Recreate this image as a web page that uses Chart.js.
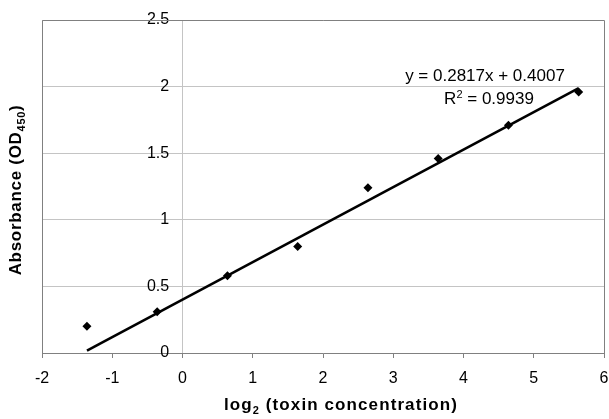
<!DOCTYPE html>
<html>
<head>
<meta charset="utf-8">
<script src="https://cdn.jsdelivr.net/npm/chart.js@4.4.1/dist/chart.umd.min.js"></script>
<style>
  html, body { margin: 0; padding: 0; background: #ffffff; }
  #wrap { width: 609px; height: 419px; position: relative; }
</style>
</head>
<body>
<div id="wrap"><canvas id="c" width="609" height="419"></canvas></div>
<script>
// ---- data ----
const log2Conc = [-1.36, -0.36, 0.64, 1.64, 2.64, 3.64, 4.64, 5.64];
const absorbance = [0.20, 0.31, 0.58, 0.80, 1.24, 1.46, 1.71, 1.96];
const trendX = [-1.36, 5.64];
const trendY = [0.018, 1.989];
const xTickValues = [-2, -1, 0, 1, 2, 3, 4, 5, 6];
const xTickLabels = ['-2', '-1', '0', '1', '2', '3', '4', '5', '6'];
const yTickValues = [0, 0.5, 1, 1.5, 2, 2.5];
const yTickLabels = ['0', '0.5', '1', '1.5', '2', '2.5'];
const xTitleParts = [['log', 'n'], ['2', 'sub'], [' (toxin concentration)', 'n']];
const yTitleParts = [['Absorbance (OD', 'n'], ['450', 'sub'], [')', 'n']];
const equationParts = [['y = 0.2817x + 0.4007', 'n']];
const r2Parts = [['R', 'n'], ['2', 'sup'], [' = 0.9939', 'n']];

const FONT = '"Liberation Sans", Arial, sans-serif';

function drawRich(ctx, parts, size, weight, spacing) {
  // draws centred on local (0,0) with alphabetic baseline
  const small = Math.round(size * 0.66);
  const fontN = weight + ' ' + size + 'px ' + FONT;
  const fontS = weight + ' ' + small + 'px ' + FONT;
  if ('letterSpacing' in ctx) ctx.letterSpacing = spacing + 'px';
  let total = 0;
  const widths = parts.map(p => {
    ctx.font = p[1] === 'n' ? fontN : fontS;
    const w = ctx.measureText(p[0]).width;
    total += w;
    return w;
  });
  let x = -total / 2;
  ctx.textAlign = 'left';
  ctx.textBaseline = 'alphabetic';
  parts.forEach((p, i) => {
    ctx.font = p[1] === 'n' ? fontN : fontS;
    let dy = 0;
    if (p[1] === 'sub') dy = size * 0.22;
    if (p[1] === 'sup') dy = -size * 0.38;
    ctx.fillText(p[0], x, dy);
    x += widths[i];
  });
  if ('letterSpacing' in ctx) ctx.letterSpacing = '0px';
}

const decorPlugin = {
  id: 'decor',
  beforeDatasetsDraw(chart) {
    const { ctx, chartArea: a } = chart;
    ctx.save();
    ctx.strokeStyle = '#808080';
    ctx.lineWidth = 1;
    ctx.beginPath();
    ctx.moveTo(a.left + 0.5, a.bottom);
    ctx.lineTo(a.left + 0.5, a.top + 0.5);
    ctx.lineTo(a.right + 0.5, a.top + 0.5);
    ctx.lineTo(a.right + 0.5, a.bottom);
    ctx.stroke();
    ctx.restore();
  },
  afterDraw(chart) {
    const { ctx } = chart;
    ctx.save();
    ctx.fillStyle = '#000000';
    // x-axis title
    ctx.save();
    ctx.translate(341, 410);
    drawRich(ctx, xTitleParts, 17, 'bold', 1.1);
    ctx.restore();
    // y-axis title
    ctx.save();
    ctx.translate(21, 190);
    ctx.rotate(-Math.PI / 2);
    drawRich(ctx, yTitleParts, 17, 'bold', 0.7);
    ctx.restore();
    // regression equation
    ctx.save();
    ctx.translate(485, 81);
    drawRich(ctx, equationParts, 17, 'normal', 0);
    ctx.restore();
    ctx.save();
    ctx.translate(489, 104);
    drawRich(ctx, r2Parts, 17, 'normal', 0);
    ctx.restore();
    ctx.restore();
  }
};

new Chart(document.getElementById('c'), {
  type: 'scatter',
  data: {
    datasets: [
      {
        label: 'Absorbance',
        data: log2Conc.map((x, i) => ({ x: x, y: absorbance[i] })),
        pointStyle: 'rectRot',
        pointRadius: 4.5,
        pointHoverRadius: 4.5,
        backgroundColor: '#000000',
        borderColor: '#000000',
        borderWidth: 0,
        showLine: false
      },
      {
        label: 'Linear fit',
        data: trendX.map((x, i) => ({ x: x, y: trendY[i] })),
        showLine: true,
        borderColor: '#000000',
        borderWidth: 2.6,
        pointRadius: 0,
        fill: false
      }
    ]
  },
  options: {
    responsive: false,
    animation: false,
    devicePixelRatio: 1,
    layout: { padding: { left: 42, right: 5, top: 20, bottom: 0 } },
    plugins: { legend: { display: false }, tooltip: { enabled: false }, title: { display: false } },
    scales: {
      x: {
        type: 'linear',
        position: 'bottom',
        min: -2,
        max: 6,
        afterBuildTicks: s => { s.ticks = xTickValues.map(v => ({ value: v })); },
        afterFit: s => { s.height = 66; s.paddingLeft = 0; s.paddingRight = 0; },
        ticks: {
          callback: (v, i) => xTickLabels[i],
          color: '#000000',
          font: { family: FONT, size: 16 },
          padding: 11,
          maxRotation: 0
        },
        grid: {
          drawOnChartArea: true,
          drawTicks: true,
          tickLength: 5,
          color: c => (c.tick && c.tick.value === 0 ? '#c4c4c4' : 'rgba(0,0,0,0)'),
          tickColor: '#808080',
          lineWidth: 1
        },
        border: { display: true, color: '#808080', width: 1 }
      },
      y: {
        type: 'linear',
        position: { x: -0.19 },
        min: 0,
        max: 2.5,
        afterBuildTicks: s => { s.ticks = yTickValues.map(v => ({ value: v })); },
        ticks: {
          callback: (v, i) => yTickLabels[i],
          color: '#000000',
          font: { family: FONT, size: 16 },
          padding: 0
        },
        grid: { drawOnChartArea: true, drawTicks: false, color: '#c4c4c4', lineWidth: 1 },
        border: { display: false }
      }
    }
  },
  plugins: [decorPlugin]
});
</script>
</body>
</html>
